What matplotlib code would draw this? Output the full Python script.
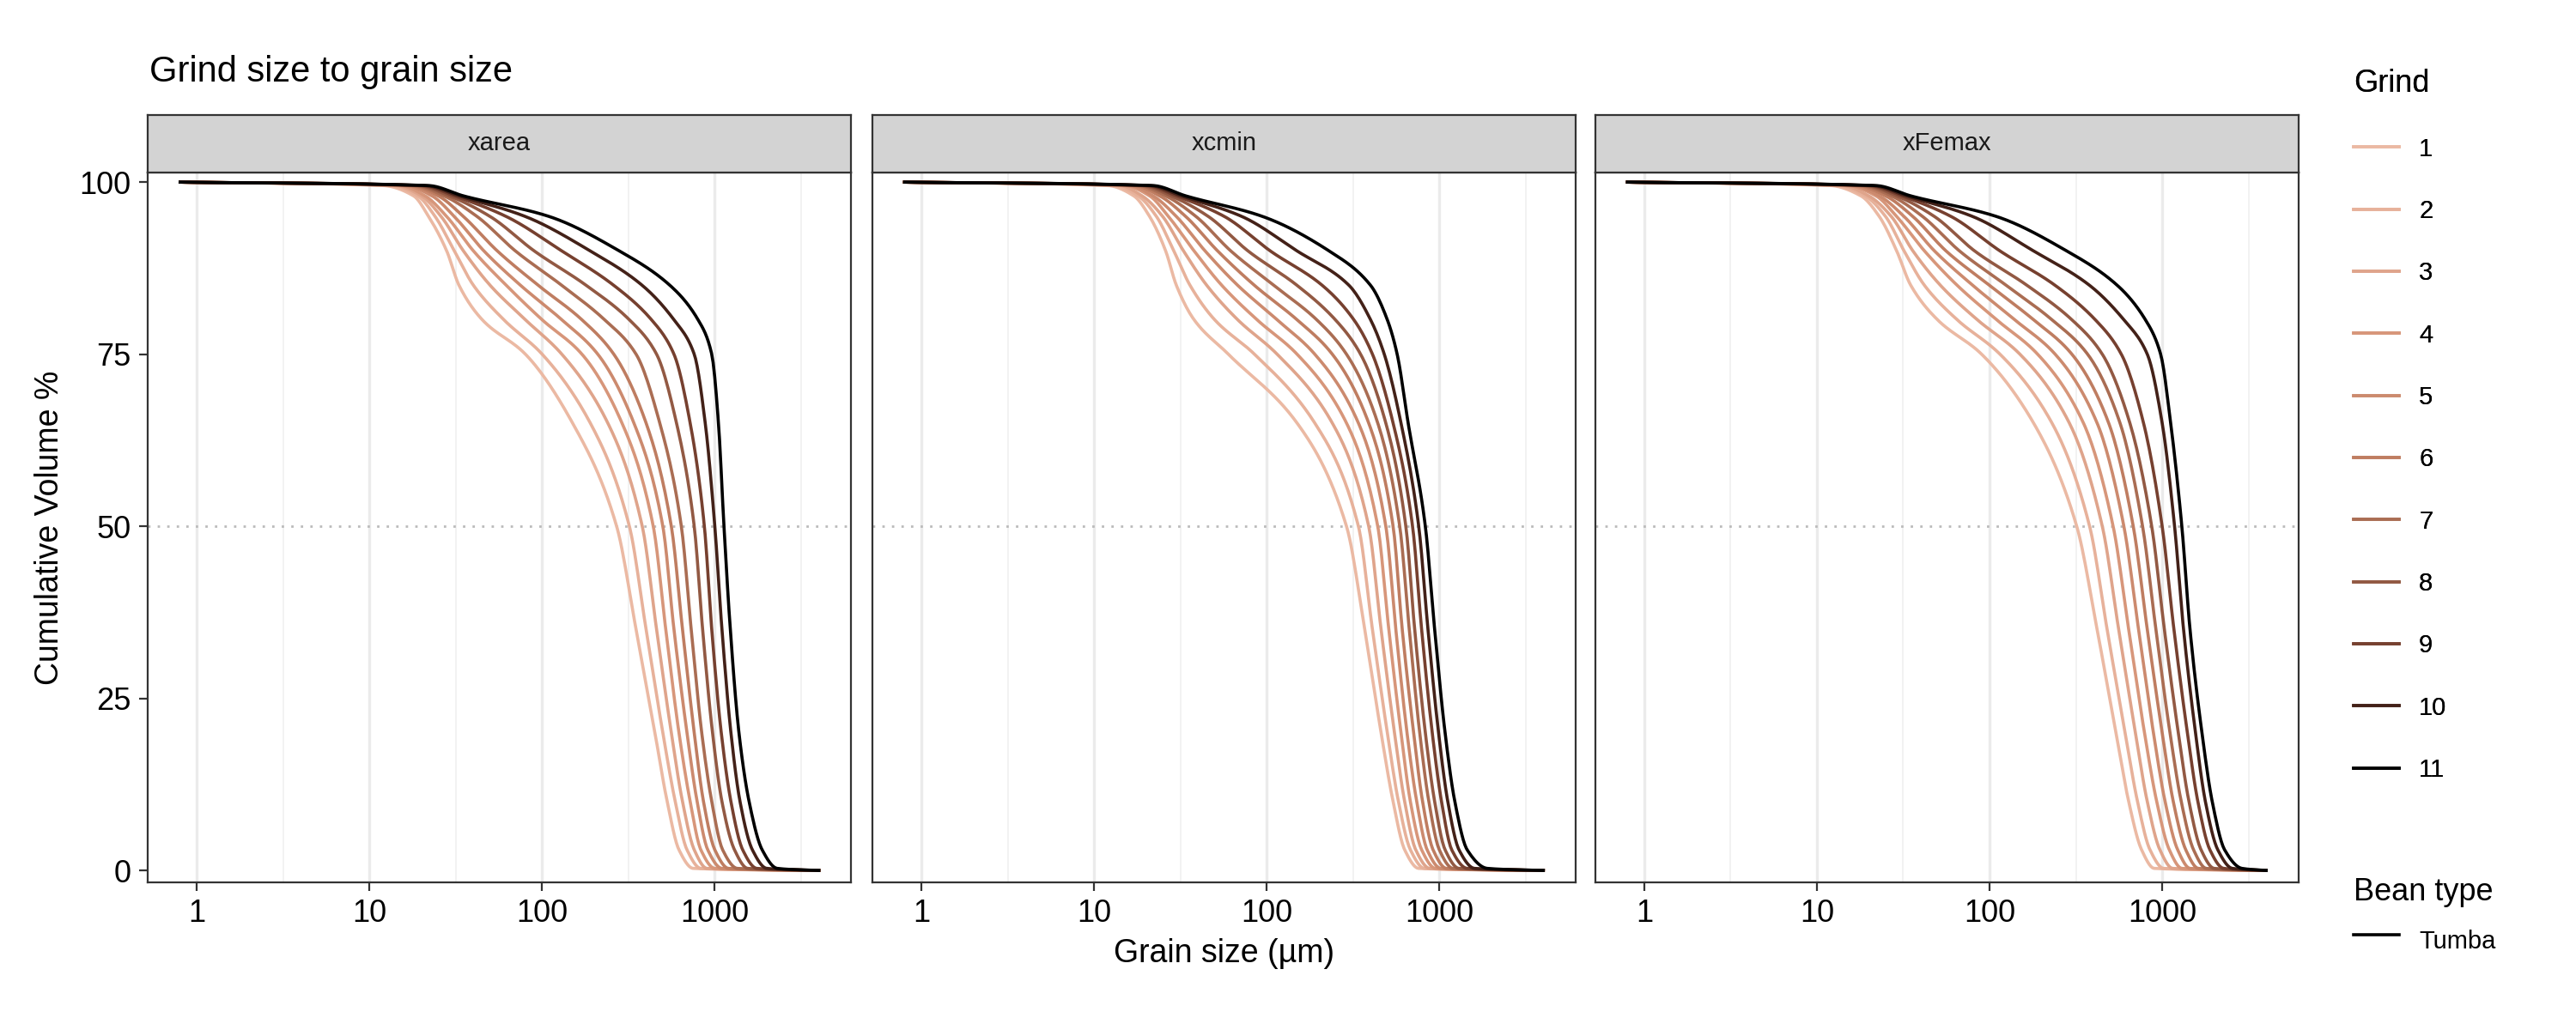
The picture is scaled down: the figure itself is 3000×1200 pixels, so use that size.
import numpy as np
import matplotlib
matplotlib.use("Agg")
import matplotlib.pyplot as plt
from matplotlib.colors import LinearSegmentedColormap
from matplotlib.lines import Line2D

plt.rcParams['font.family'] = ['Liberation Sans', 'DejaVu Sans']

panels = ["xarea", "xcmin", "xFemax"]
grinds = list(range(1, 12))
levels = [99.5, 98, 95, 90, 85, 80, 75, 65, 50, 35, 20, 10, 3, 0.3]
x_start = 0.8
x_end = 4000

xarea = [
    [12,18,22,28,33,45,80,150,270,350,450,530,620,750],
    [13,19,24,31,40,60,100,190,320,400,500,590,690,830],
    [14,20,26,35,50,80,130,240,380,460,560,650,760,900],
    [15,21,28,40,62,100,170,290,440,520,620,720,830,1000],
    [16,23,31,46,75,130,210,340,500,580,690,790,910,1100],
    [17,25,35,55,95,170,260,400,560,650,760,860,1000,1200],
    [18,27,42,70,130,230,350,480,640,730,840,960,1110,1350],
    [19,29,50,90,180,320,460,600,760,850,970,1100,1300,1550],
    [20,31,62,130,260,430,580,720,870,960,1090,1240,1450,1750],
    [21,33,80,190,380,580,760,880,1000,1100,1240,1400,1650,2000],
    [22,35,110,280,550,800,960,1050,1130,1230,1380,1580,1880,2300],
]
xcmin = [
    [12,17,21,26,30,38,60,150,290,370,460,540,630,760],
    [13,18,23,29,36,50,85,190,340,410,500,580,680,820],
    [14,19,25,33,45,68,115,240,390,460,550,630,730,880],
    [15,21,27,38,55,88,150,290,440,510,600,680,790,950],
    [16,22,30,44,68,115,190,340,490,560,650,740,850,1020],
    [17,24,34,52,85,150,240,390,540,610,710,800,920,1100],
    [18,26,39,62,110,195,290,440,590,670,770,870,1000,1200],
    [19,28,46,78,150,250,350,490,640,720,830,940,1080,1300],
    [20,30,57,105,210,320,410,540,700,790,910,1030,1180,1450],
    [21,32,72,150,300,400,480,600,760,860,990,1120,1300,1600],
    [22,34,95,230,400,500,570,660,830,940,1080,1230,1450,1900],
]
xFemax = [
    [12,18,23,29,35,50,90,180,320,420,540,640,760,900],
    [13,19,25,32,42,65,115,230,380,480,610,720,850,1020],
    [14,20,27,36,52,85,150,290,450,560,700,820,970,1150],
    [15,22,29,42,65,110,190,350,520,640,790,930,1100,1300],
    [16,23,32,48,80,140,240,420,600,730,890,1040,1230,1450],
    [17,25,36,56,100,180,300,490,680,820,1000,1160,1370,1620],
    [18,27,41,67,125,230,370,570,770,920,1110,1290,1520,1800],
    [19,29,48,82,165,300,450,650,870,1030,1240,1430,1680,2000],
    [20,31,60,115,240,410,580,780,1000,1170,1400,1610,1890,2270],
    [21,33,80,180,380,600,820,1000,1180,1330,1560,1780,2100,2550],
    [22,35,110,280,550,800,980,1120,1300,1450,1700,1950,2300,2900],
]
data = {"xarea": xarea, "xcmin": xcmin, "xFemax": xFemax}


def pchip(xk, yk, xn):
    xk = np.asarray(xk, float); yk = np.asarray(yk, float)
    hh = np.diff(xk); d = np.diff(yk) / hh
    m = np.zeros_like(yk)
    for i in range(1, len(xk) - 1):
        if d[i-1] * d[i] > 0:
            w1 = 2 * hh[i] + hh[i-1]; w2 = hh[i] + 2 * hh[i-1]
            m[i] = (w1 + w2) / (w1 / d[i-1] + w2 / d[i])
    m[0] = d[0]; m[-1] = d[-1]
    idx = np.clip(np.searchsorted(xk, xn) - 1, 0, len(hh) - 1)
    t = (xn - xk[idx]) / hh[idx]
    h00 = 2*t**3 - 3*t**2 + 1; h10 = t**3 - 2*t**2 + t
    h01 = -2*t**3 + 3*t**2; h11 = t**3 - t**2
    return h00*yk[idx] + h10*hh[idx]*m[idx] + h01*yk[idx+1] + h11*hh[idx]*m[idx+1]


cmap = LinearSegmentedColormap.from_list("g", ["#EBB9A3", "#D8977B", "#C07E62", "#9A6048", "#6A3526", "#000000"])
colors = [cmap((i / 10) ** 1.3) for i in range(11)]

fig = plt.figure(figsize=(15, 6), dpi=200)
lefts = [90/1568, 531/1568, 971/1568]
w = 428/1568
bot = 1 - 537/627
h = (537-105)/627
sh = 35/627

for pi, name in enumerate(panels):
    ax = fig.add_axes([lefts[pi], bot, w, h])
    ax.set_xscale('log')
    ax.set_xlim(0.52, 6150)
    ax.set_ylim(-1.7, 101.4)
    for xv in [1, 10, 100, 1000]:
        ax.axvline(xv, color='#EBEBEB', lw=1.2, zorder=0)
    for xv in [10**0.5, 10**1.5, 10**2.5, 10**3.5]:
        ax.axvline(xv, color='#F2F2F2', lw=0.7, zorder=0)
    ax.axhline(50, color='#BBBBBB', lw=1.0, ls=(0, (1, 3)), zorder=0)
    for gi in range(11):
        xs = np.array([x_start] + data[name][gi] + [x_end], float)
        ys = np.array([100] + levels + [0], float)
        lx = np.log10(xs)
        fine = np.linspace(lx[0], lx[-1], 400)
        # smooth: y as function of log x
        yf = pchip(lx, ys, fine)
        ax.plot(10**fine, yf, color=colors[gi], lw=1.3)
    ax.set_xticks([1, 10, 100, 1000])
    ax.set_xticklabels(["1", "10", "100", "1000"])
    ax.minorticks_off()
    ax.set_yticks([0, 25, 50, 75, 100])
    if pi == 0:
        ax.set_yticklabels(["0", "25", "50", "75", "100"])
        ax.set_ylabel("Cumulative Volume %", fontsize=13.5, labelpad=6)
    else:
        ax.set_yticklabels([])
        ax.tick_params(axis='y', length=0)
    if pi == 1:
        ax.set_xlabel("Grain size (µm)", fontsize=13.5)
    ax.tick_params(labelsize=13, color='#333333')
    for s in ax.spines.values():
        s.set_color('#333333'); s.set_linewidth(0.8)
    sax = fig.add_axes([lefts[pi], bot + h, w, sh])
    sax.set_facecolor('#D3D3D3')
    sax.set_xticks([]); sax.set_yticks([])
    for s in sax.spines.values():
        s.set_color('#333333'); s.set_linewidth(0.8)
    sax.text(0.5, 0.5, name, ha='center', va='center', fontsize=10.5, color='#1A1A1A', transform=sax.transAxes)

fig.text(91/1568, 1 - 44/627, "Grind size to grain size", fontsize=15, va='center', ha='left')

handles = [Line2D([], [], color=colors[i], lw=1.3) for i in range(11)]
leg1 = fig.legend(handles, [str(g) for g in grinds], title="Grind", loc='upper left',
                  bbox_to_anchor=(0.905, 0.955), frameon=False, fontsize=10.5,
                  title_fontsize=13, labelspacing=1.52, handlelength=1.8, alignment='left')
fig.add_artist(leg1)
fig.legend([Line2D([], [], color='black', lw=1.3)], ["Tumba"], title="Bean type", loc='upper left',
           bbox_to_anchor=(0.905, 0.17), frameon=False, fontsize=10.5,
           title_fontsize=13, handlelength=1.8, handleheight=2.2, alignment='left')

fig.savefig("out.png", dpi=200)
